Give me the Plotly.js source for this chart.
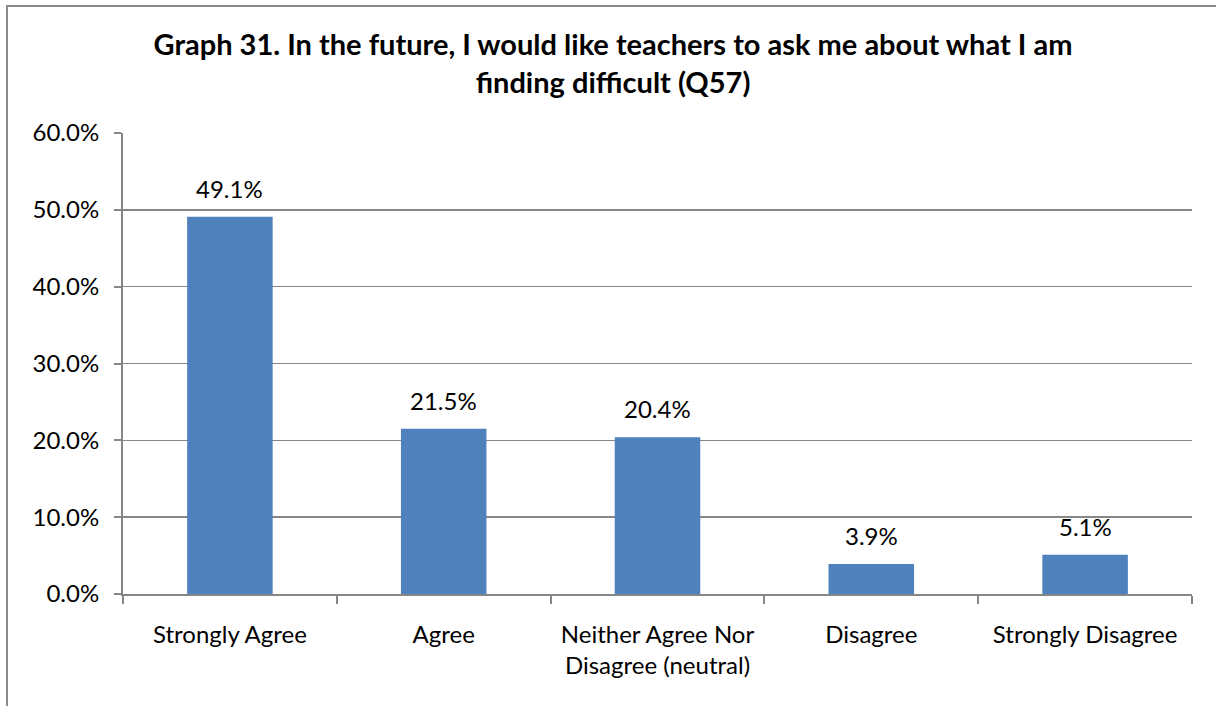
<!DOCTYPE html>
<html>
<head>
<meta charset="utf-8">
<script src="https://cdn.plot.ly/plotly-3.0.1.min.js"></script>
<style>
  html, body { margin: 0; padding: 0; background: #fff; }
  #wrap { position: relative; width: 1216px; height: 706px; overflow: hidden; }
  #frame { position: absolute; left: 6px; top: 5px; width: 1300px; height: 800px;
           border-left: 2px solid #8a8a8a; border-top: 2px solid #8a8a8a; box-sizing: border-box; }
  #chart { position: absolute; left: 0; top: 0; width: 1216px; height: 706px; }
</style>
</head>
<body>
<div id="wrap">
  <div id="frame"></div>
  <div id="chart"></div>
</div>
<script>
// Survey responses for Q57
const categories = [
  "Strongly Agree",
  "Agree",
  "Neither Agree Nor<br>Disagree (neutral)",
  "Disagree",
  "Strongly Disagree"
];
const shares = [0.491, 0.215, 0.204, 0.039, 0.051];
const yTickVals = [0, 0.1, 0.2, 0.3, 0.4, 0.5, 0.6];

const FONT = "Lato, 'Open Sans', sans-serif";
const GREY = "#868686";

const trace = {
  type: "bar",
  x: categories,
  y: shares,
  marker: { color: "#4f81bd" },
  width: 0.4,
  hoverinfo: "skip"
};

// value labels above each bar
const valueLabels = categories.map((c, i) => ({
  x: c,
  y: shares[i],
  xref: "x",
  yref: "y",
  text: (shares[i] * 100).toFixed(1) + "%",
  showarrow: false,
  yanchor: "bottom",
  yshift: 12,
  font: { family: FONT, size: 24, color: "#000" }
}));

const layout = {
  width: 1216,
  height: 706,
  paper_bgcolor: "rgba(0,0,0,0)",
  plot_bgcolor: "rgba(0,0,0,0)",
  margin: { l: 123, r: 24, t: 133, b: 112 },
  showlegend: false,
  font: { family: FONT, size: 24, color: "#000" },
  title: {
    text: "<b>Graph 31. In the future, I would like teachers to ask me about what I am<br>finding difficult (Q57)</b>",
    font: { family: FONT, size: 29, color: "#000", lineposition: "none" },
    x: 613 / 1216,
    xanchor: "center",
    y: 1 - 55 / 706,
    yanchor: "top"
  },
  xaxis: {
    type: "category",
    showline: true,
    linecolor: GREY,
    linewidth: 2,
    ticks: "outside",
    tickson: "boundaries",
    ticklen: 8,
    tickcolor: GREY,
    tickwidth: 2,
    ticklabelstandoff: 18,
    tickfont: { family: FONT, size: 24, color: "#000" },
    showgrid: false,
    fixedrange: true
  },
  yaxis: {
    range: [0, 0.6],
    tickvals: yTickVals,
    tickformat: ".1%",
    showline: true,
    linecolor: GREY,
    linewidth: 2,
    ticks: "outside",
    ticklen: 7,
    tickcolor: GREY,
    tickwidth: 2,
    ticklabelstandoff: 10,
    showgrid: true,
    gridcolor: GREY,
    gridwidth: 1.5,
    zeroline: false,
    tickfont: { family: FONT, size: 24, color: "#000" },
    fixedrange: true
  },
  annotations: valueLabels,
  bargap: 0.6
};

Plotly.newPlot("chart", [trace], layout, { displayModeBar: false, staticPlot: true });
</script>
</body>
</html>
